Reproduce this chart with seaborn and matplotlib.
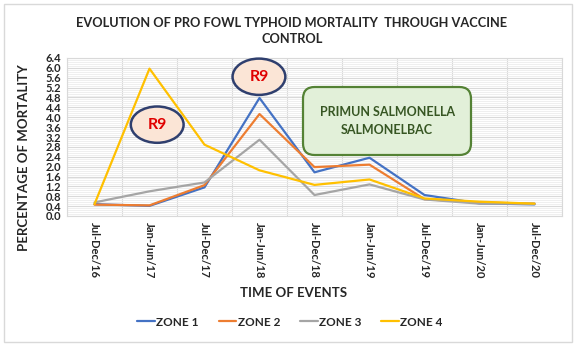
import numpy as np
import pandas as pd
import matplotlib
matplotlib.use("Agg")
import matplotlib.pyplot as plt
from matplotlib.patches import Ellipse, FancyBboxPatch, Rectangle
import seaborn as sns

periods = ['Jul-Dec/16', 'Jan-Jun/17', 'Jul-Dec/17', 'Jan-Jun/18', 'Jul-Dec/18',
           'Jan-Jun/19', 'Jul-Dec/19', 'Jan-Jun/20', 'Jul-Dec/20']
zone1 = [0.48, 0.41, 1.16, 4.78, 1.77, 2.36, 0.85, 0.51, 0.47]
zone2 = [0.46, 0.43, 1.25, 4.13, 1.98, 2.08, 0.68, 0.55, 0.50]
zone3 = [0.55, 1.00, 1.36, 3.09, 0.85, 1.28, 0.67, 0.50, 0.50]
zone4 = [0.48, 5.97, 2.89, 1.85, 1.26, 1.48, 0.71, 0.58, 0.50]
zones = ['ZONE 1', 'ZONE 2', 'ZONE 3', 'ZONE 4']
colors = ['#4472C4', '#ED7D31', '#A5A5A5', '#FFC000']

df = pd.DataFrame({'period': periods * 4,
                   'zone': np.repeat(zones, len(periods)),
                   'value': zone1 + zone2 + zone3 + zone4})

sns.set_style('white')
plt.rcParams['font.family'] = ['Lato', 'DejaVu Sans']
plt.rcParams['font.weight'] = 'bold'

fig = plt.figure(figsize=(5.84, 3.55), dpi=100)
ax = fig.add_axes([67/584, 1-216/355, 495/584, 158/355])

sns.lineplot(data=df, x='period', y='value', hue='zone', palette=colors,
             sort=False, linewidth=1.6, ax=ax, legend=True)

# axes look
ax.set_xlim(-0.5, len(periods) - 0.5)
ax.set_ylim(0, 6.4)
ax.set_yticks(np.arange(0, 6.41, 0.4))
ax.set_yticklabels([f'{v:.1f}' for v in np.arange(0, 6.41, 0.4)], fontsize=8, fontweight='bold')
ax.set_yticks(np.arange(0, 6.41, 0.08), minor=True)
ax.set_xticks(range(len(periods)))
ax.set_xticklabels(periods, rotation=-90, fontsize=8, fontweight='bold')
ax.set_xticks(np.arange(-0.5, len(periods), 1), minor=True)
ax.tick_params(which='both', length=0, pad=4)
ax.grid(axis='y', which='major', color='#D9D9D9', linewidth=0.8)
ax.grid(axis='y', which='minor', color='#EDEDED', linewidth=0.6)
ax.grid(axis='x', which='minor', color='#D9D9D9', linewidth=0.8)
ax.grid(axis='x', which='major', visible=False)
for s in ax.spines.values():
    s.set_color('#D9D9D9')

ax.set_xlabel('TIME OF EVENTS', fontsize=9.5, fontweight='bold')
ax.xaxis.set_label_coords(0.457, -0.45)
ax.set_ylabel('PERCENTAGE OF MORTALITY', fontsize=9.5, fontweight='bold')
ax.yaxis.set_label_coords(-0.075, 0.37)

leg = ax.legend(loc='center', bbox_to_anchor=(290/584, 1-322/355), bbox_transform=fig.transFigure,
                ncol=4, frameon=False, handlelength=1.5, handletextpad=0.1, columnspacing=1.7,
                prop={'size': 8.5, 'weight': 'bold'})

# annotations
for cx, cy in [(1.14, 3.70), (2.99, 5.64)]:
    ax.add_patch(Ellipse((cx, cy), 0.96, 1.47, facecolor='#FBE5D6', edgecolor='#2F3F6E',
                         linewidth=1.8, clip_on=False, zorder=5))
    ax.text(cx, cy, 'R9', color='#E00000', fontsize=11.5, fontweight='bold',
            ha='center', va='center', zorder=6)

box = FancyBboxPatch((303/584, 1-155/355), 168/584, 68/355,
                     boxstyle='round,pad=0,rounding_size=0.02', mutation_aspect=584/355,
                     transform=fig.transFigure, facecolor='#E2F0D9', edgecolor='#548235',
                     linewidth=1.6, zorder=5)
fig.patches.append(box)
fig.text(387/584, 1-121/355, 'PRIMUN SALMONELLA\nSALMONELBAC', color='#375623',
         fontsize=9, fontweight='bold', ha='center', va='center', linespacing=1.5, zorder=6)

fig.text(292/584, 1-31/355, 'EVOLUTION OF PRO FOWL TYPHOID MORTALITY  THROUGH VACCINE\nCONTROL',
         fontsize=9.2, fontweight='bold', ha='center', va='center', linespacing=1.45)

fig.patches.append(Rectangle((4/584, 1-342/355), 568/584, 338/355, transform=fig.transFigure,
                             fill=False, edgecolor='#D9D9D9', linewidth=1))

fig.savefig('out.png', dpi=100)
